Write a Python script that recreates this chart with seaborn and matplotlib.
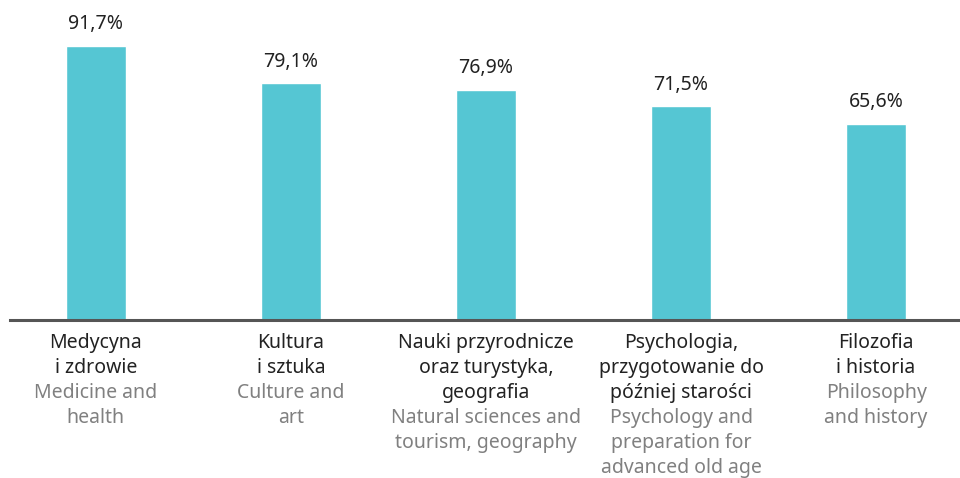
import matplotlib
matplotlib.use("Agg")
import matplotlib.pyplot as plt
import seaborn as sns
import pandas as pd

# data
categories = ["Medycyna", "Kultura", "Nauki", "Psychologia", "Filozofia"]
values = [91.7, 79.1, 76.9, 71.5, 65.6]
labels_pl = [
    "Medycyna\ni zdrowie",
    "Kultura\ni sztuka",
    "Nauki przyrodnicze\noraz turystyka,\ngeografia",
    "Psychologia,\nprzygotowanie do\npóźniej starości",
    "Filozofia\ni historia",
]
labels_en = [
    "Medicine and\nhealth",
    "Culture and\nart",
    "Natural sciences and\ntourism, geography",
    "Psychology and\npreparation for\nadvanced old age",
    "Philosophy\nand history",
]

sns.set_style("white")
plt.rcParams["font.family"] = ["Noto Sans", "DejaVu Sans"]

df = pd.DataFrame({"cat": categories, "val": values})

fig = plt.figure(figsize=(9.6, 4.78), dpi=100)
ax = fig.add_axes([10 / 960, 158 / 478, 950 / 960, 320 / 478])

sns.barplot(data=df, x="cat", y="val", color="#55c6d3", saturation=1,
            width=0.308, ax=ax)

ax.set_xlim(-0.44, 4.43)
ax.set_ylim(0, 107)
for s in ["top", "left", "right"]:
    ax.spines[s].set_visible(False)
ax.spines["bottom"].set_color("#555555")
ax.spines["bottom"].set_linewidth(2.2)
ax.spines["bottom"].set_zorder(5)
ax.set_xticks([])
ax.set_yticks([])
ax.set_xlabel("")
ax.set_ylabel("")

fs = 14
pitch = 18  # points between label lines
for i, v in enumerate(values):
    ax.annotate(f"{v:.1f}%".replace(".", ","), (i, v), xytext=(0, 12),
                textcoords="offset points", ha="center", va="baseline",
                fontsize=fs, color="#222222")
    lines = [(t, "#222222") for t in labels_pl[i].split("\n")]
    lines += [(t, "#808080") for t in labels_en[i].split("\n")]
    for k, (t, c) in enumerate(lines):
        ax.annotate(t, (i, 0), xytext=(0, -20 - k * pitch),
                    textcoords="offset points", ha="center", va="baseline",
                    fontsize=fs, color=c, annotation_clip=False)

fig.savefig("out.png", dpi=100)
